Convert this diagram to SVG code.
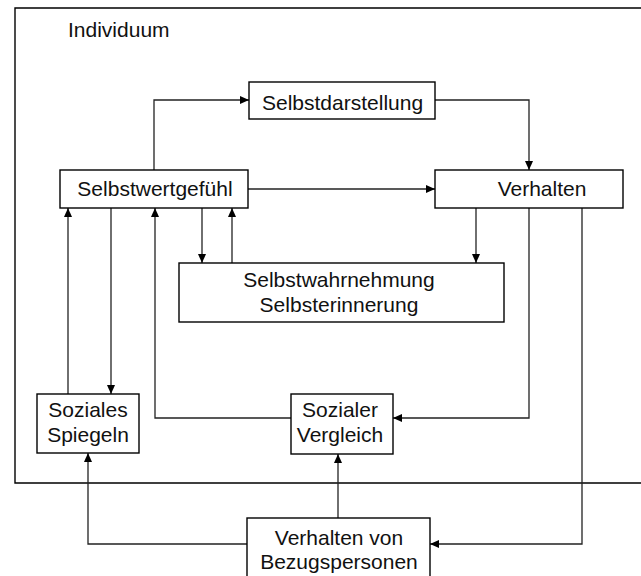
<svg xmlns="http://www.w3.org/2000/svg" width="641" height="576" viewBox="0 0 641 576">
<style>
.box{fill:#fff;stroke:#000;stroke-width:1.4}
.frame{fill:none;stroke:#000;stroke-width:1.4}
.t{font-family:"Liberation Sans",Arial,sans-serif;font-size:21px;fill:#111}
.c{fill:none;stroke:#222;stroke-width:1.3;marker-end:url(#ah)}
</style>
<defs>
<marker id="ah" markerUnits="userSpaceOnUse" markerWidth="10" markerHeight="8" refX="9" refY="4" orient="auto">
<path d="M0,0 L9,4 L0,8 z" fill="#000"/>
</marker>
</defs>
<path class="frame" d="M641,8 H15 V483 H641"/>
<text class="t" x="68" y="37">Individuum</text>
<g id="connectors">
<path class="c" d="M154,170 V100 H249"/>
<path class="c" d="M435,100 H529 V170"/>
<path class="c" d="M248,189 H435"/>
<path class="c" d="M202,208 V263"/>
<path class="c" d="M232,263 V208"/>
<path class="c" d="M476,208 V263"/>
<path class="c" d="M68,394 V208"/>
<path class="c" d="M111,208 V394"/>
<path class="c" d="M291,418 H155 V208"/>
<path class="c" d="M529,208 V418 H393"/>
<path class="c" d="M582,208 V544 H430"/>
<path class="c" d="M338,518 V454"/>
<path class="c" d="M247,544 H88 V453"/>
</g>
<g id="selbstdarstellung">
<rect class="box" x="249" y="82" width="186" height="37"/>
<text class="t" x="262" y="110">Selbstdarstellung</text>
</g>
<g id="selbstwertgefuehl">
<rect class="box" x="60" y="170" width="188" height="38"/>
<text class="t" x="155" y="196" text-anchor="middle">Selbstwertgefühl</text>
</g>
<g id="verhalten">
<rect class="box" x="435" y="170" width="188" height="38"/>
<text class="t" x="542" y="196" text-anchor="middle">Verhalten</text>
</g>
<g id="selbstwahrnehmung">
<rect class="box" x="179" y="263" width="325" height="59"/>
<text class="t" x="339" y="287" text-anchor="middle">Selbstwahrnehmung</text>
<text class="t" x="339" y="312" text-anchor="middle">Selbsterinnerung</text>
</g>
<g id="soziales-spiegeln">
<rect class="box" x="37" y="394" width="102" height="59"/>
<text class="t" x="88" y="417" text-anchor="middle">Soziales</text>
<text class="t" x="88" y="442" text-anchor="middle">Spiegeln</text>
</g>
<g id="sozialer-vergleich">
<rect class="box" x="291" y="394" width="102" height="60"/>
<text class="t" x="340" y="417" text-anchor="middle">Sozialer</text>
<text class="t" x="340" y="442" text-anchor="middle">Vergleich</text>
</g>
<g id="bezugspersonen">
<rect class="box" x="247" y="518" width="183" height="70"/>
<text class="t" x="339" y="545" text-anchor="middle">Verhalten von</text>
<text class="t" x="339" y="569" text-anchor="middle">Bezugspersonen</text>
</g>
</svg>
